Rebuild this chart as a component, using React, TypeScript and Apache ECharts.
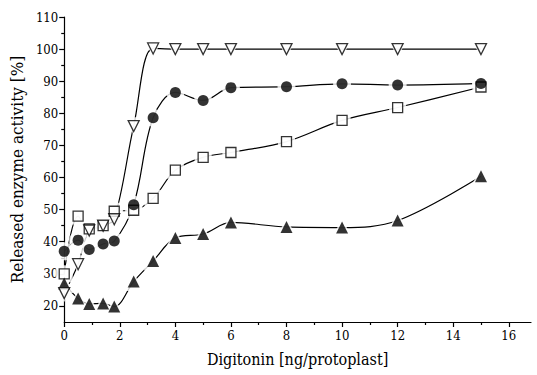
import React, { useEffect, useRef } from "react";
import * as echarts from "echarts";

const xValues = [0, 0.5, 0.9, 1.4, 1.8, 2.5, 3.2, 4, 5, 6, 8, 10, 12, 15];
const openTriangles = [24, 33, 43.5, 45, 47, 76, 100.2, 100, 100, 100, 100, 100, 100, 100];
const filledCircles = [37, 40.5, 37.6, 39.3, 40.2, 51.5, 78.6, 86.5, 84, 88, 88.3, 89.2, 88.8, 89.3];
const openSquares = [30, 48, 44, 45, 49.5, 49.8, 53.5, 62.3, 66.3, 67.8, 71.2, 77.8, 81.8, 88.2];
const filledTriangles = [27, 22.3, 20.6, 20.8, 19.8, 27.6, 34, 41.2, 42.4, 46, 44.6, 44.4, 46.6, 60.4];

const xMajor = [0, 2, 4, 6, 8, 10, 12, 14, 16];
const xMinor = [1, 3, 5, 7, 9, 11, 13, 15];
const yMajor = [20, 30, 40, 50, 60, 70, 80, 90, 100, 110];
const yMinor = [25, 35, 45, 55, 65, 75, 85, 95, 105];

const FONT = "DejaVu Serif Condensed";

function pair(arr: number[]) {
  return xValues.map((x, i) => [x, arr[i]]);
}

export default function App() {
  const ref = useRef<HTMLDivElement>(null);
  useEffect(() => {
    if (!ref.current) return;
    const chart = echarts.init(ref.current, null, { renderer: "svg" });
    const sets = [
      { data: pair(openSquares), symbol: "rect", size: 10, rotate: 0, open: true },
      { data: pair(filledTriangles), symbol: "triangle", size: 12, rotate: 0, open: false },
      { data: pair(openTriangles), symbol: "triangle", size: 11, rotate: 180, open: true },
      { data: pair(filledCircles), symbol: "circle", size: 11, rotate: 0, open: false },
    ];

    const series: any[] = [];
    sets.forEach((s) => {
      series.push({
        type: "line",
        data: s.data,
        smooth: 0.35,
        symbol: "none",
        lineStyle: { color: "#000", width: 1.2 },
        z: 2,
        silent: true,
      });
    });
    sets.forEach((s) => {
      series.push({
        type: "scatter",
        data: s.data,
        symbol: s.symbol,
        symbolSize: s.size + 7,
        symbolRotate: s.rotate,
        itemStyle: { color: "#fff", borderWidth: 0 },
        z: 3,
        silent: true,
      });
    });
    sets.forEach((s) => {
      series.push({
        type: "scatter",
        data: s.data,
        symbol: s.symbol,
        symbolSize: s.size,
        symbolRotate: s.rotate,
        itemStyle: s.open
          ? { color: "#fff", borderColor: "#000", borderWidth: 1.3 }
          : { color: "#000", borderWidth: 0 },
        z: 4,
        silent: true,
      });
    });

    const axisLine = { show: true, lineStyle: { color: "#000", width: 1.2 } };
    chart.setOption({
      animation: false,
      grid: { left: 64, right: 6, top: 17, bottom: 53 },
      xAxis: [
        {
          type: "value",
          min: 0,
          max: 16.8,
          interval: 2,
          position: "bottom",
          axisLine,
          splitLine: { show: false },
          axisTick: { show: true, length: 5, customValues: xMajor, lineStyle: { color: "#000", width: 1.2 } },
          axisLabel: {
            customValues: xMajor,
            color: "#000",
            fontFamily: FONT,
            fontSize: 13,
            margin: 7,
          },
          name: "Digitonin [ng/protoplast]",
          nameLocation: "middle",
          nameGap: 29,
          nameTextStyle: { color: "#000", fontFamily: FONT, fontSize: 16 },
        },
        {
          type: "value",
          min: 0,
          max: 16.8,
          position: "bottom",
          axisLine: { show: false },
          splitLine: { show: false },
          axisTick: { show: true, length: 3, customValues: xMinor, lineStyle: { color: "#000", width: 1.2 } },
          axisLabel: { show: false },
        },
      ],
      yAxis: [
        {
          type: "value",
          min: 15,
          max: 110,
          position: "left",
          axisLine,
          splitLine: { show: false },
          axisTick: { show: true, length: 5, customValues: yMajor, lineStyle: { color: "#000", width: 1.2 } },
          axisLabel: {
            customValues: yMajor,
            color: "#000",
            fontFamily: FONT,
            fontSize: 13,
            margin: 6,
          },
          name: "Released enzyme activity [%]",
          nameLocation: "middle",
          nameGap: 37,
          nameRotate: 90,
          nameTextStyle: { color: "#000", fontFamily: FONT, fontSize: 17 },
        },
        {
          type: "value",
          min: 15,
          max: 110,
          position: "left",
          axisLine: { show: false },
          splitLine: { show: false },
          axisTick: { show: true, length: 3, customValues: yMinor, lineStyle: { color: "#000", width: 1.2 } },
          axisLabel: { show: false },
        },
      ],
      series,
    });
    return () => chart.dispose();
  }, []);
  return (
    <div
      ref={ref}
      style={{ position: "absolute", left: 0, top: 0, width: 537, height: 375, background: "#fff" }}
    />
  );
}
